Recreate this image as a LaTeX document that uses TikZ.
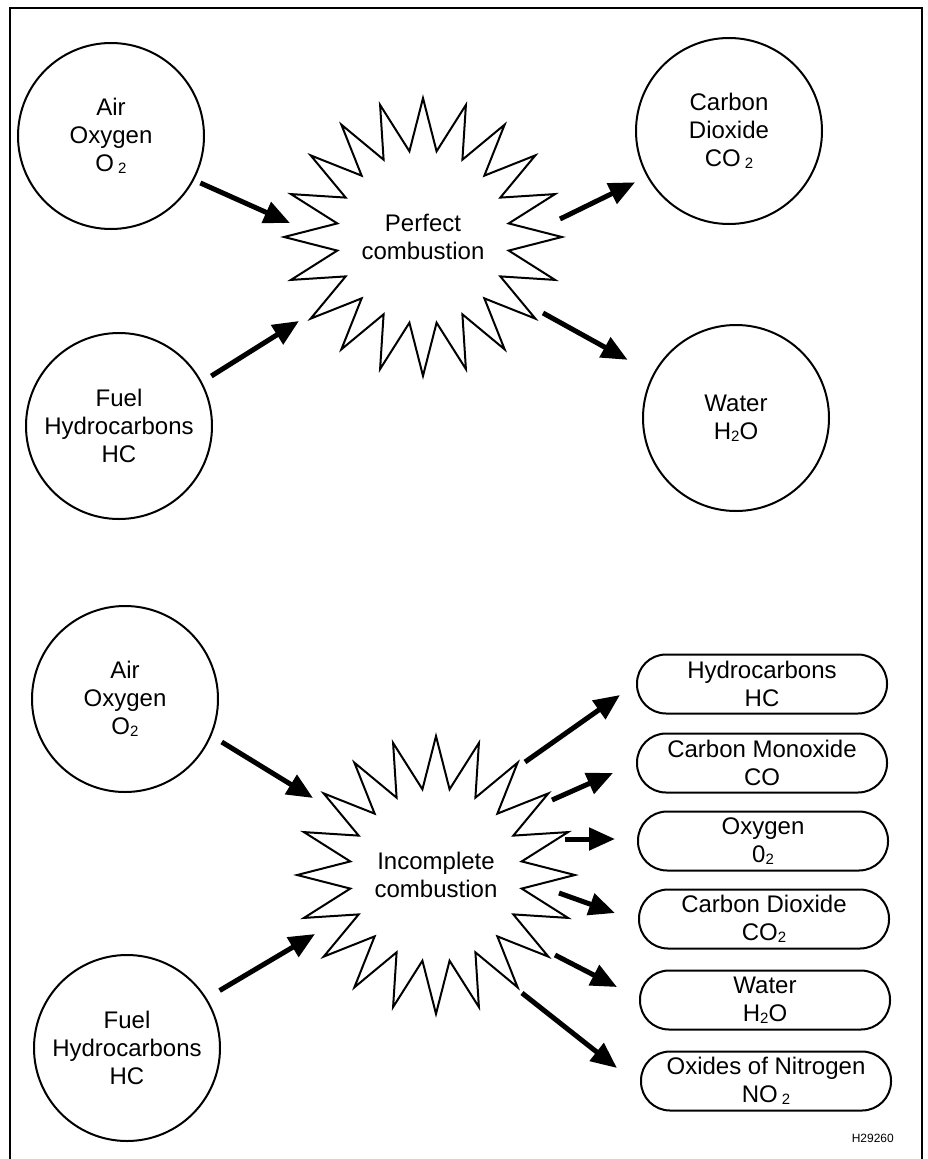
\documentclass[tikz,border=0pt]{standalone}
\usepackage{fontspec}
\setmainfont{Liberation Sans}
\usetikzlibrary{arrows.meta,shapes.geometric}

% small lowered digit used for chemical formulas
\newcommand\subdig[1]{\raisebox{-1.5pt}{\fontsize{15}{15}\selectfont #1}}

\begin{document}
\begin{tikzpicture}[x=1pt,y=-1pt,
  every node/.style={font=\fontsize{24}{28}\selectfont, align=center, inner sep=0pt},
  species/.style={circle, draw, line width=2pt, minimum size=186pt},
  burst/.style={star, star points=20, star point ratio=1.6, draw, line width=2pt},
  product/.style={rectangle, rounded corners=29pt, draw, line width=2pt,
                  minimum width=250pt, minimum height=59pt},
  flow/.style={line width=5pt, -{Triangle[length=26pt,width=22pt]}},
  frame/.style={line width=2pt}]

\fill[white] (0,0) rectangle (928,1159);
\useasboundingbox (0,0) rectangle (928,1159);

% outer frame (open at the bottom)
\draw[frame] (10,1165) -- (10,8) -- (922,8) -- (922,1165);

% ---------- perfect combustion ----------
\node[species] (air1)   at (111,136) {Air\\Oxygen\\O\,\subdig{2}};
\node[species] (fuel1)  at (119,426) {Fuel\\Hydrocarbons\\HC};
\node[burst, minimum size=264pt] (perfect) at (423,237) {Perfect\\combustion};
\node[species] (co2)    at (729,131) {Carbon\\Dioxide\\CO\,\subdig{2}};
\node[species] (water)  at (736,418) {Water\\H\subdig{2}O};

\coordinate (p-in1)  at (290,223);
\coordinate (p-in2)  at (299,321);
\coordinate (p-out1) at (560,219);
\coordinate (p-out2) at (543,313);

\draw[flow, shorten <=7pt]  (air1.-28) -- (p-in1);
\draw[flow, shorten <=11pt] (fuel1.28) -- (p-in2);
\draw[flow, shorten >=13pt] (p-out1) -- (co2.-151);
\draw[flow, shorten >=29pt] (p-out2) -- (water.152);

% ---------- incomplete combustion ----------
\node[species] (air2)  at (125,699)  {Air\\Oxygen\\O\subdig{2}};
\node[species] (fuel2) at (127,1048) {Fuel\\Hydrocarbons\\HC};
\node[burst, minimum size=258pt] (incomplete) at (436,875) {Incomplete\\combustion};

\node[product] (hc)  at (762,684)  {Hydrocarbons\\HC};
\node[product] (co)  at (762,763)  {Carbon Monoxide\\CO};
\node[product] (o2)  at (763,841)  {Oxygen\\0\subdig{2}};
\node[product] (cd)  at (764,919)  {Carbon Dioxide\\CO\subdig{2}};
\node[product] (h2o) at (765,1000) {Water\\H\subdig{2}O};
\node[product] (nox) at (766,1081) {Oxides of Nitrogen\\NO\,\subdig{2}};

\coordinate (i-in1) at (313,798);
\coordinate (i-in2) at (315,934);
\draw[flow, shorten <=12pt] (air2.-23) -- (i-in1);
\draw[flow, shorten <=15pt] (fuel2.32) -- (i-in2);

\coordinate (i-s1) at (525,762);  \coordinate (i-t1) at (620,695);
\coordinate (i-s2) at (552,800);  \coordinate (i-t2) at (613,773);
\coordinate (i-s3) at (565,839);  \coordinate (i-t3) at (615,839);
\coordinate (i-s4) at (559,893);  \coordinate (i-t4) at (615,913);
\coordinate (i-s5) at (555,955);  \coordinate (i-t5) at (617,987);
\coordinate (i-s6) at (522,993);  \coordinate (i-t6) at (617,1068);

\draw[flow] (i-s1) -- (i-t1);
\draw[flow] (i-s2) -- (i-t2);
\draw[flow] (i-s3) -- (i-t3);
\draw[flow] (i-s4) -- (i-t4);
\draw[flow] (i-s5) -- (i-t5);
\draw[flow] (i-s6) -- (i-t6);

% drawing number
\node[font=\fontsize{12}{12}\selectfont, anchor=east] (drawno) at (894,1138) {H29260};
\end{tikzpicture}
\end{document}
